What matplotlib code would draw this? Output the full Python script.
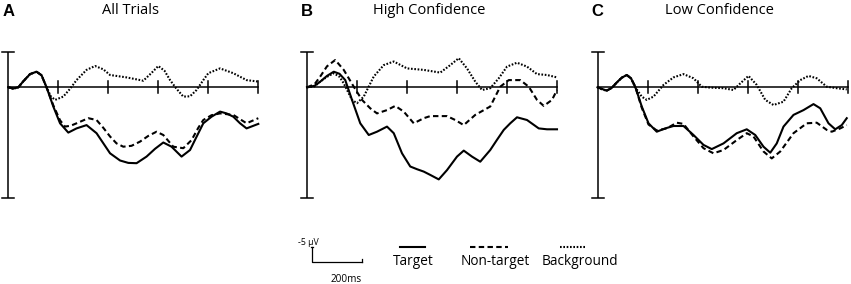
import matplotlib
matplotlib.use("Agg")
import matplotlib.pyplot as plt

W, H = 851, 284
INK = "#000000"
plt.rcParams.update({"font.family": ["Open Sans", "DejaVu Sans"]})

# time (ms) / amplitude (uV, positive drawn downward)
a_target_t = [0, 20, 40, 60, 87, 113, 133, 153, 180, 207, 240, 273, 313, 353, 407, 447, 480,
              513, 553, 587, 620, 653, 693, 727, 753, 780, 813, 847, 873, 900, 927, 953, 1000]
a_target_v = [0, 0.4, 0, -2.0, -4.4, -5.2, -4.0, 0, 6.4, 12.0, 15.1, 13.7, 12.6, 15.3, 22.0, 24.4, 25.2,
              25.3, 23.1, 20.5, 18.4, 19.8, 23.1, 20.9, 16.5, 12.0, 9.8, 8.1, 8.7, 9.8, 12.0, 13.7, 12.2]
a_nontarget_t = [0, 20, 40, 60, 87, 113, 133, 153, 180, 207, 227, 250, 273, 320, 353, 380, 407,
                 433, 460, 493, 527, 560, 593, 620, 660, 700, 733, 760, 780, 813, 847, 900, 953, 1000]
a_nontarget_v = [0, 0.4, 0, -2.0, -4.4, -5.2, -4.0, 0, 6.0, 11.0, 13.1, 12.8, 12.0, 10.3, 10.9, 13.5, 16.4,
                 18.7, 19.8, 19.5, 18.1, 16.2, 14.8, 15.9, 19.8, 20.3, 17.6, 13.5, 10.9, 9.3, 8.7, 9.2, 12.0, 10.3]
a_background_t = [0, 20, 40, 60, 87, 113, 133, 153, 170, 187, 220, 247, 273, 313, 347, 380, 407,
                  473, 540, 573, 600, 625, 647, 673, 700, 727, 753, 780, 800, 847, 900, 953, 1000]
a_background_v = [0, 0.5, 0, -2.0, -4.4, -5.2, -4.0, 0, 3.0, 4.2, 3.1, 0.5, -2.4, -5.8, -7.1, -6.0, -4.1,
                  -3.3, -2.2, -4.8, -7.1, -5.5, -2.4, 0.5, 3.1, 3.0, 0.9, -2.4, -4.7, -6.3, -4.7, -2.4, -1.9]

b_target_t = [0, 30, 53, 80, 107, 130, 153, 180, 213, 247, 280, 320, 347, 380, 413, 440, 467,
              493, 527, 560, 600, 627, 660, 693, 733, 760, 787, 813, 840, 880, 927, 960, 1000]
b_target_v = [0, -0.5, -1.9, -3.8, -5.2, -4.5, -2.4, 4.2, 12.0, 15.9, 14.8, 13.1, 15.3, 22.0, 26.4, 27.3, 28.1,
              29.2, 30.7, 27.6, 23.1, 21.1, 23.1, 24.8, 20.9, 17.5, 14.2, 12.0, 10.0, 10.9, 13.7, 14.0, 14.0]
b_nontarget_t = [0, 30, 53, 80, 113, 147, 167, 187, 220, 253, 280, 320, 353, 387, 427, 467, 493,
                 560, 593, 627, 673, 733, 773, 807, 853, 887, 920, 947, 980, 1000]
b_nontarget_v = [0, -1.0, -3.6, -7.0, -9.1, -5.8, -3.0, -0.2, 4.2, 7.0, 8.7, 7.6, 6.2, 8.1, 12.0, 10.3, 9.6,
                 9.6, 10.9, 12.6, 9.2, 6.4, -0.2, -2.4, -2.4, -0.2, 4.2, 6.2, 4.2, 0.9]
b_background_t = [0, 30, 53, 80, 107, 130, 147, 180, 200, 227, 267, 307, 347, 400, 467, 533, 573,
                  607, 640, 673, 700, 733, 767, 800, 840, 880, 920, 960, 1000]
b_background_v = [0, -0.3, -1.9, -3.5, -4.7, -3.5, -1.3, 4.2, 5.3, 3.1, -3.6, -7.4, -8.6, -6.3, -5.8, -4.9, -7.4,
                  -9.7, -6.3, -1.9, 0.9, 0.3, -3.0, -6.9, -8.2, -6.9, -4.4, -4.1, -3.3]

c_target_t = [0, 20, 37, 57, 77, 97, 117, 134, 151, 177, 204, 237, 271, 304, 344, 384, 424,
              457, 504, 557, 597, 631, 664, 691, 717, 744, 784, 824, 864, 891, 924, 951, 977, 997]
c_target_v = [0, 0.6, 1.1, 0.2, -1.6, -3.2, -4.1, -3.0, -0.2, 6.4, 12.0, 14.8, 13.7, 12.9, 12.9, 15.9, 19.2,
              20.6, 18.7, 15.3, 14.0, 15.9, 19.8, 21.8, 18.7, 13.1, 9.2, 7.6, 5.6, 7.0, 12.0, 14.0, 12.6, 10.3]
c_nontarget_t = [0, 20, 37, 57, 77, 97, 117, 134, 151, 177, 204, 237, 277, 317, 344, 384, 424,
                 464, 504, 557, 597, 624, 664, 697, 731, 784, 837, 877, 917, 937, 971, 997]
c_nontarget_v = [0, 0.6, 1.1, 0.2, -1.6, -3.2, -4.1, -3.0, -0.2, 6.8, 12.4, 14.4, 13.7, 11.8, 12.2, 16.4, 20.3,
                 22.0, 20.9, 17.6, 15.3, 16.4, 21.4, 23.7, 21.4, 15.3, 12.0, 11.8, 14.2, 14.8, 13.7, 12.6]
c_background_t = [0, 20, 37, 57, 77, 97, 117, 134, 151, 177, 197, 224, 264, 304, 344, 384, 417,
                  451, 504, 544, 571, 604, 637, 671, 704, 744, 777, 811, 844, 877, 917, 957, 997]
c_background_v = [0, 0.8, 1.1, 0.2, -1.6, -3.2, -4.1, -3.0, 0, 3.1, 4.2, 3.1, -0.8, -3.3, -4.4, -3.0, -0.2,
                  0.1, 0.3, 0.9, -1.3, -3.8, -0.8, 4.2, 5.9, 4.8, 0.3, -2.4, -3.8, -3.0, -0.2, 0.3, 0.7]

panel_letters = ["A", "B", "C"]
panel_titles = ["All Trials", "High Confidence", "Low Confidence"]
tick_ms = [200, 400, 600, 800, 1000]
legend_labels = ["Target", "Non-target", "Background"]

STYLES = [dict(ls="-"), dict(ls=(0, (2.6, 1.6))), dict(ls=(0, (0.8, 0.8)))]
MS_PER_PX, PX_PER_UV = 4.0, 3.0
Y0_PX = 87.3  # zero line, in pixels from the top


def px_axes(fig, x0, x_left, x_right, y0, y_top, y_bot):
    """Axes whose data scale is 4 ms/px and 3 px/uV, zero at pixel (x0, y0)."""
    ax = fig.add_axes([x_left / W, 1 - y_bot / H, (x_right - x_left) / W, (y_bot - y_top) / H])
    ax.set_xlim((x_left - x0) * MS_PER_PX, (x_right - x0) * MS_PER_PX)
    ax.set_ylim((y_bot - y0) / PX_PER_UV, (y_top - y0) / PX_PER_UV)
    ax.axis("off")
    return ax


fig = plt.figure(figsize=(W / 100, H / 100), dpi=100)
panel_x0 = [8.3, 307.0, 597.5]
curves = [
    [(a_target_t, a_target_v), (a_nontarget_t, a_nontarget_v), (a_background_t, a_background_v)],
    [(b_target_t, b_target_v), (b_nontarget_t, b_nontarget_v), (b_background_t, b_background_v)],
    [(c_target_t, c_target_v), (c_nontarget_t, c_nontarget_v), (c_background_t, c_background_v)],
]

for x0, letter, title, series in zip(panel_x0, panel_letters, panel_titles, curves):
    ax = px_axes(fig, x0, x0 - 8, x0 + 262, Y0_PX, 40, 212)
    # axes: vertical bar with caps, baseline with ticks
    ax.plot([0, 0], [-11.9, 36.9], color=INK, lw=1.1, solid_capstyle="butt")
    for yy in (-11.9, 36.9):
        ax.plot([-24, 24], [yy, yy], color=INK, lw=1.1)
    ax.plot([0, 1000], [0, 0], color=INK, lw=1.1)
    for t in tick_ms:
        ax.plot([t, t], [-2, 2], color=INK, lw=1.1)
    for (t, v), st in zip(series, STYLES):
        ax.plot(t, v, color=INK, lw=1.5, **st)
    fig.text((x0 - 6) / W, 1 - 15.5 / H, letter, fontsize=12, fontweight="bold",
             family="Liberation Sans", va="baseline", ha="left")
    fig.text((x0 + 122) / W, 1 - 14.5 / H, title, fontsize=10.5, va="baseline", ha="center")

# scale bar + legend
lx0, ly0 = 312.0, 262.0
lax = px_axes(fig, lx0, 290, 650, ly0, 225, 284)
lax.plot([0, 0, 200], [-5, 0, 0], color=INK, lw=0.9)
lax.plot([-4, 4], [-5, -5], color=INK, lw=0.9)
lax.plot([200, 200], [0, -1], color=INK, lw=0.9)
lax.text(-13, -6.4, "-5 \u03bcV", fontsize=6.3, ha="center", va="center")
lax.text(135, 5.9, "200ms", fontsize=7.2, ha="center", va="center")
leg_text_x = [413, 495, 580]
leg_line_px = [(400, 425), (470, 508), (560, 585)]
for cx, (l0, l1), lab, st in zip(leg_text_x, leg_line_px, legend_labels, STYLES):
    lax.plot([(l0 - lx0) * MS_PER_PX, (l1 - lx0) * MS_PER_PX], [-5, -5], color=INK, lw=1.5, **st)
    lax.text((cx - lx0) * MS_PER_PX, -0.3, lab, fontsize=9.8, ha="center", va="center")

fig.savefig("out.png", dpi=100)
